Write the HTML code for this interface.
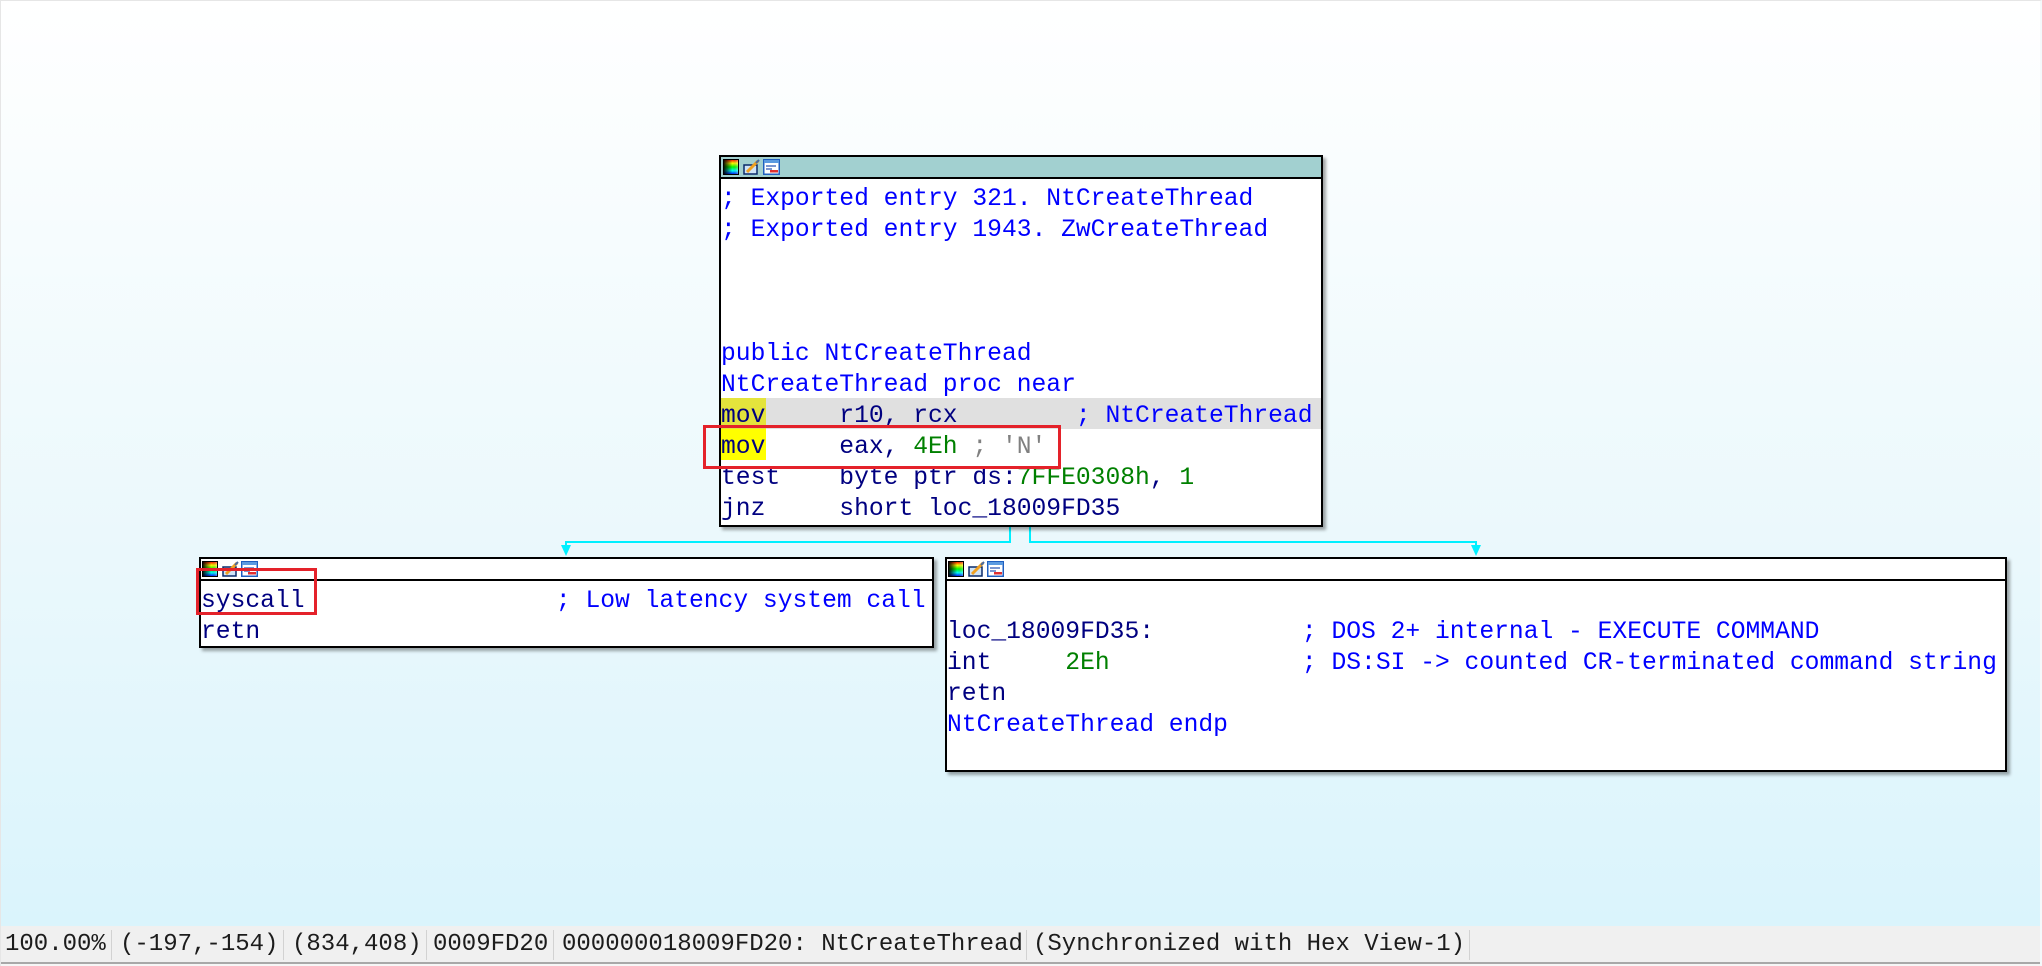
<!DOCTYPE html>
<html>
<head>
<meta charset="utf-8">
<style>
html,body{margin:0;padding:0;}
body{width:2042px;height:966px;overflow:hidden;position:relative;
  background:linear-gradient(to bottom,#ffffff 0px,#eaf8fc 560px,#daf4fc 926px);
  font-family:"Liberation Mono",monospace;}
.frame{position:absolute;left:0;top:0;width:2042px;height:966px;box-sizing:border-box;border-top:1px solid #e6e6e6;border-left:1px solid #e6e6e6;border-right:2px solid #f4f9fb;pointer-events:none;}
.box{position:absolute;border:2px solid #000;background:#fff;box-sizing:border-box;box-shadow:3px 3px 3px rgba(0,0,0,0.35);}
.hdr{height:20px;border-bottom:2px solid #000;position:relative;background:#fff;}
.hdr.sel{background:#a2d0d0;}
.hdr svg{position:absolute;top:2px;}
.bd{position:relative;padding-top:2px;font-size:24.65px;}
.ln{height:31px;line-height:37px;white-space:pre;position:relative;z-index:2;color:#000080;}
.hl{position:absolute;z-index:1;height:31px;}
.b{color:#0000ff;}
.n{color:#000080;}
.g{color:#008000;}
.gr{color:#808080;}
.red{position:absolute;border:3px solid #e4222a;box-sizing:border-box;z-index:10;}
.sb{position:absolute;left:0;top:926px;width:2042px;height:36px;background:#f0f0f0;border-bottom:2px solid #a8a8a8;}
.sb span{position:absolute;top:0;line-height:38px;font-size:24px;color:#1c1c1c;white-space:pre;}
.sb i{position:absolute;top:4px;width:1px;height:30px;background:#d2d2d2;}
.bot{position:absolute;left:0;top:964px;width:2042px;height:2px;background:#f6f6f6;}
</style>
</head>
<body>

<!-- connectors -->
<svg width="2042" height="966" style="position:absolute;left:0;top:0;" xmlns="http://www.w3.org/2000/svg">
  <g stroke="#00f0ff" stroke-width="2" fill="none">
    <polyline points="1010,527 1010,542 566,542 566,547"/>
    <polyline points="1030,527 1030,542 1476,542 1476,547"/>
  </g>
  <polygon points="561,545 571,545 566,556" fill="#00f0ff"/>
  <polygon points="1471,545 1481,545 1476,556" fill="#00f0ff"/>
</svg>

<!-- Main box -->
<div class="box" style="left:719px;top:155px;width:604px;height:372px;">
  <div class="hdr sel">
    <svg style="left:2px" width="16" height="16" viewBox="0 0 16 16">
      <defs>
        <linearGradient id="hg1" x1="0" y1="0" x2="0" y2="1"><stop offset="0" stop-color="#f00"/><stop offset=".25" stop-color="#ff0"/><stop offset=".5" stop-color="#0f0"/><stop offset=".75" stop-color="#0ff"/><stop offset="1" stop-color="#00f"/></linearGradient>
        <linearGradient id="vg1" x1="0" y1="0" x2="1" y2="0"><stop offset="0" stop-color="#000" stop-opacity=".9"/><stop offset=".6" stop-color="#000" stop-opacity="0"/><stop offset="1" stop-color="#fff" stop-opacity=".3"/></linearGradient>
      </defs>
      <rect x=".5" y=".5" width="15" height="15" fill="url(#hg1)" stroke="#000"/>
      <rect x="1" y="1" width="14" height="14" fill="url(#vg1)"/>
    </svg>
    <svg style="left:22px" width="17" height="16" viewBox="0 0 17 16">
      <rect x="1" y="6" width="13" height="9" fill="#cfe3f7" stroke="#0a2a6a" stroke-width="1.5"/>
      <line x1="4" y1="13" x2="15" y2="2" stroke="#f0a020" stroke-width="3"/>
      <line x1="13" y1="4" x2="16" y2="1" stroke="#4a6aa0" stroke-width="2"/>
    </svg>
    <svg style="left:42px" width="17" height="16" viewBox="0 0 17 16">
      <rect x=".75" y=".75" width="15.5" height="14.5" fill="#fff" stroke="#1f5fc0" stroke-width="1.5"/>
      <rect x="1" y="1" width="15" height="3" fill="#5a9ae0"/>
      <line x1="3" y1="7" x2="13" y2="7" stroke="#2050b0" stroke-width="1.2"/>
      <line x1="3" y1="10" x2="9" y2="10" stroke="#2050b0" stroke-width="1.2"/>
      <rect x="7" y="11" width="8" height="2.5" fill="#e03030"/>
    </svg>
  </div>
  <div class="bd">
    <div class="hl" style="left:0;top:219px;width:600px;background:#e0e0e0;"></div>
    <div class="hl" style="left:0;top:219px;width:44.5px;background:#e4e43c;"></div>
    <div class="hl" style="left:0;top:250px;width:44.5px;background:#ffff00;"></div>
    <div class="ln b">; Exported entry 321. NtCreateThread</div>
    <div class="ln b">; Exported entry 1943. ZwCreateThread</div>
    <div class="ln"> </div>
    <div class="ln"> </div>
    <div class="ln"> </div>
    <div class="ln b">public NtCreateThread</div>
    <div class="ln b">NtCreateThread proc near</div>
    <div class="ln"><span class="n">mov     r10, rcx</span>        <span class="b">; NtCreateThread</span></div>
    <div class="ln"><span class="n">mov     eax, </span><span class="g">4Eh</span> <span class="gr">; 'N'</span></div>
    <div class="ln"><span class="n">test    byte ptr ds:</span><span class="g">7FFE0308h</span><span class="n">, </span><span class="g">1</span></div>
    <div class="ln"><span class="n">jnz     short loc_18009FD35</span></div>
  </div>
</div>

<!-- Left box -->
<div class="box" style="left:199px;top:557px;width:735px;height:91px;">
  <div class="hdr">
    <svg style="left:1px" width="16" height="16" viewBox="0 0 16 16">
      <defs>
        <linearGradient id="hg2" x1="0" y1="0" x2="0" y2="1"><stop offset="0" stop-color="#f00"/><stop offset=".25" stop-color="#ff0"/><stop offset=".5" stop-color="#0f0"/><stop offset=".75" stop-color="#0ff"/><stop offset="1" stop-color="#00f"/></linearGradient>
        <linearGradient id="vg2" x1="0" y1="0" x2="1" y2="0"><stop offset="0" stop-color="#000" stop-opacity=".9"/><stop offset=".6" stop-color="#000" stop-opacity="0"/><stop offset="1" stop-color="#fff" stop-opacity=".3"/></linearGradient>
      </defs>
      <rect x=".5" y=".5" width="15" height="15" fill="url(#hg2)" stroke="#000"/>
      <rect x="1" y="1" width="14" height="14" fill="url(#vg2)"/>
    </svg>
    <svg style="left:21px" width="17" height="16" viewBox="0 0 17 16">
      <rect x="1" y="6" width="13" height="9" fill="#cfe3f7" stroke="#0a2a6a" stroke-width="1.5"/>
      <line x1="4" y1="13" x2="15" y2="2" stroke="#f0a020" stroke-width="3"/>
      <line x1="13" y1="4" x2="16" y2="1" stroke="#4a6aa0" stroke-width="2"/>
    </svg>
    <svg style="left:40px" width="17" height="16" viewBox="0 0 17 16">
      <rect x=".75" y=".75" width="15.5" height="14.5" fill="#fff" stroke="#1f5fc0" stroke-width="1.5"/>
      <rect x="1" y="1" width="15" height="3" fill="#5a9ae0"/>
      <line x1="3" y1="7" x2="13" y2="7" stroke="#2050b0" stroke-width="1.2"/>
      <line x1="3" y1="10" x2="9" y2="10" stroke="#2050b0" stroke-width="1.2"/>
      <rect x="7" y="11" width="8" height="2.5" fill="#e03030"/>
    </svg>
  </div>
  <div class="bd">
    <div class="ln"><span class="n">syscall</span>                 <span class="b">; Low latency system call</span></div>
    <div class="ln"><span class="n">retn</span></div>
  </div>
</div>

<!-- Right box -->
<div class="box" style="left:945px;top:557px;width:1062px;height:215px;">
  <div class="hdr">
    <svg style="left:1px" width="16" height="16" viewBox="0 0 16 16">
      <defs>
        <linearGradient id="hg3" x1="0" y1="0" x2="0" y2="1"><stop offset="0" stop-color="#f00"/><stop offset=".25" stop-color="#ff0"/><stop offset=".5" stop-color="#0f0"/><stop offset=".75" stop-color="#0ff"/><stop offset="1" stop-color="#00f"/></linearGradient>
        <linearGradient id="vg3" x1="0" y1="0" x2="1" y2="0"><stop offset="0" stop-color="#000" stop-opacity=".9"/><stop offset=".6" stop-color="#000" stop-opacity="0"/><stop offset="1" stop-color="#fff" stop-opacity=".3"/></linearGradient>
      </defs>
      <rect x=".5" y=".5" width="15" height="15" fill="url(#hg3)" stroke="#000"/>
      <rect x="1" y="1" width="14" height="14" fill="url(#vg3)"/>
    </svg>
    <svg style="left:21px" width="17" height="16" viewBox="0 0 17 16">
      <rect x="1" y="6" width="13" height="9" fill="#cfe3f7" stroke="#0a2a6a" stroke-width="1.5"/>
      <line x1="4" y1="13" x2="15" y2="2" stroke="#f0a020" stroke-width="3"/>
      <line x1="13" y1="4" x2="16" y2="1" stroke="#4a6aa0" stroke-width="2"/>
    </svg>
    <svg style="left:40px" width="17" height="16" viewBox="0 0 17 16">
      <rect x=".75" y=".75" width="15.5" height="14.5" fill="#fff" stroke="#1f5fc0" stroke-width="1.5"/>
      <rect x="1" y="1" width="15" height="3" fill="#5a9ae0"/>
      <line x1="3" y1="7" x2="13" y2="7" stroke="#2050b0" stroke-width="1.2"/>
      <line x1="3" y1="10" x2="9" y2="10" stroke="#2050b0" stroke-width="1.2"/>
      <rect x="7" y="11" width="8" height="2.5" fill="#e03030"/>
    </svg>
  </div>
  <div class="bd">
    <div class="ln"> </div>
    <div class="ln"><span class="n">loc_18009FD35:</span>          <span class="b">; DOS 2+ internal - EXECUTE COMMAND</span></div>
    <div class="ln"><span class="n">int     </span><span class="g">2Eh</span>             <span class="b">; DS:SI -&gt; counted CR-terminated command string</span></div>
    <div class="ln"><span class="n">retn</span></div>
    <div class="ln b">NtCreateThread endp</div>
    <div class="ln"> </div>
  </div>
</div>

<!-- red annotation rectangles -->
<div class="red" style="left:703px;top:425px;width:358px;height:44px;"></div>
<div class="red" style="left:196px;top:568px;width:121px;height:47px;"></div>

<!-- status bar -->
<div class="sb">
  <span style="left:5px">100.00%</span>
  <i style="left:111px"></i>
  <span style="left:120px">(-197,-154)</span>
  <i style="left:283px"></i>
  <span style="left:292px">(834,408)</span>
  <i style="left:426px"></i>
  <span style="left:433px">0009FD20</span>
  <i style="left:553px"></i>
  <span style="left:562px">000000018009FD20: NtCreateThread</span>
  <i style="left:1026px"></i>
  <span style="left:1033px">(Synchronized with Hex View-1)</span>
  <i style="left:1469px"></i>
</div>
<div class="bot"></div>
<div class="frame"></div>

</body>
</html>
